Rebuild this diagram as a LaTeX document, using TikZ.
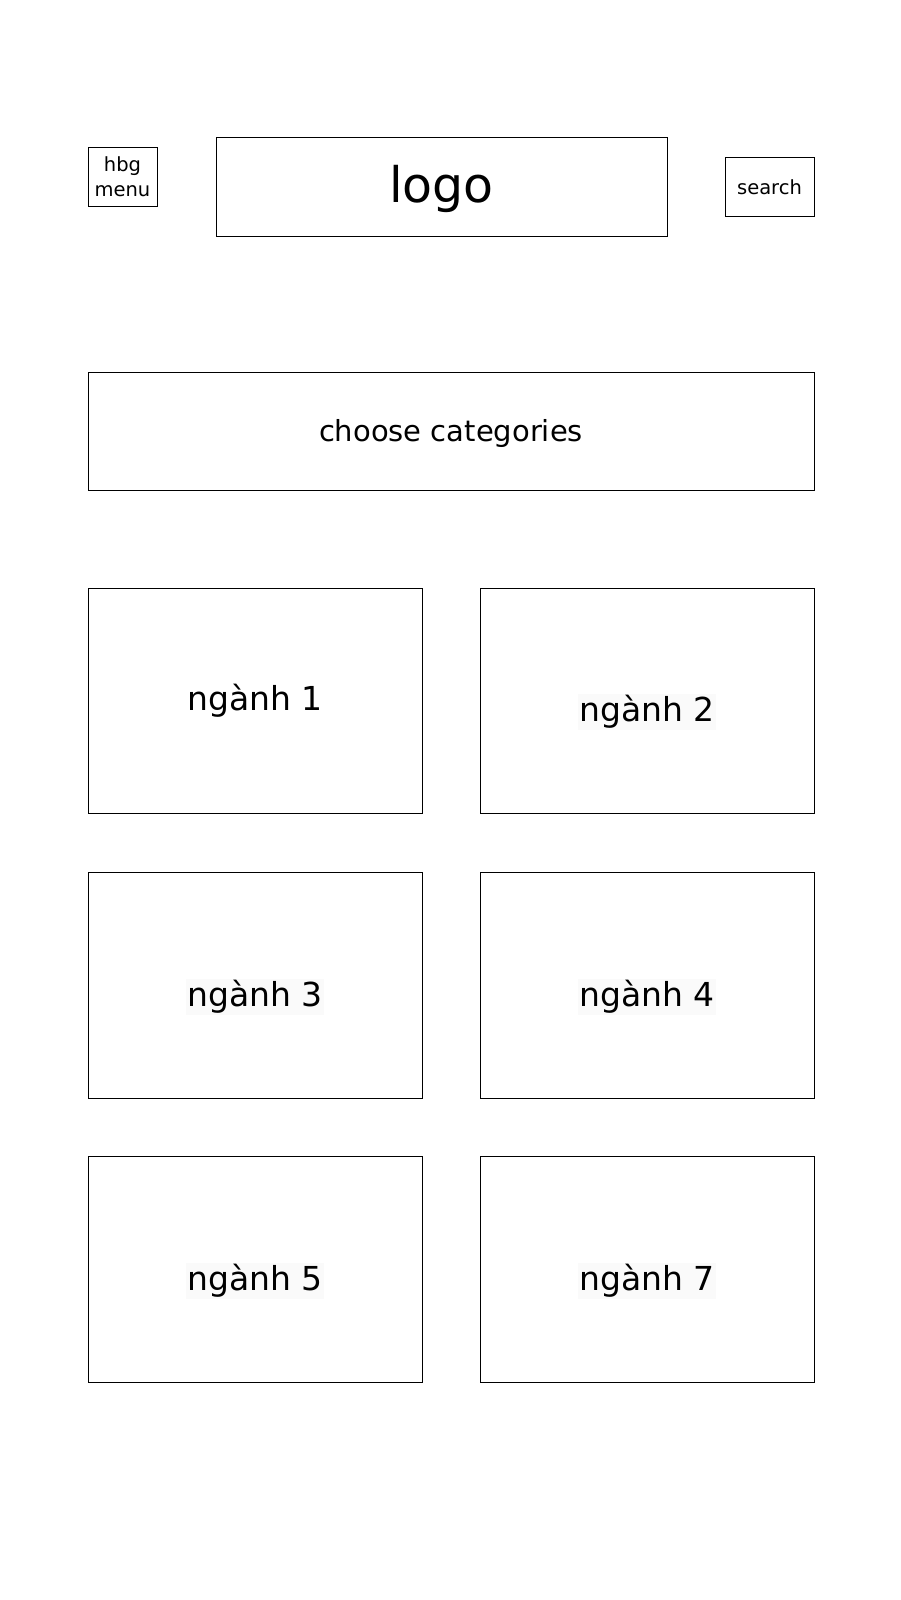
\documentclass[tikz,border=0pt]{standalone}
\usepackage{fontspec}
\setmainfont{DejaVu Sans}
\begin{document}
\begin{tikzpicture}[x=1pt,y=-1pt,
  box/.style={draw=black,line width=0.8pt,fill=white,inner sep=0pt},
  lbl/.style={inner sep=1pt,font=\fontsize{33}{40}\selectfont},
  lblbg/.style={lbl,fill={rgb,255:red,250;green,250;blue,250}}]
\useasboundingbox[fill=white] (0,0) rectangle (900,1600);
\draw[box] (88,147) rectangle (157,206);
\node[align=center,font=\fontsize{19.5}{25}\selectfont] (hbg) at (122.5,176.5) {hbg\\menu};
\draw[box] (216,137) rectangle (667,236);
\node[font=\fontsize{49}{60}\selectfont] (logo) at (441.5,189) {logo};
\draw[box] (725,157) rectangle (814,216);
\node[font=\fontsize{19.5}{24}\selectfont] (search) at (769.5,187) {search};
\draw[box] (88,372) rectangle (814,490);
\node[font=\fontsize{29}{34}\selectfont] (cat) at (451,433) {choose categories};
\draw[box] (88,588) rectangle (422,813);
\node[lbl] (n1) at (255,701) {ngành 1};
\draw[box] (480,588) rectangle (814,813);
\node[lblbg] (n2) at (647,712) {ngành 2};
\draw[box] (88,872) rectangle (422,1098);
\node[lblbg] (n3) at (255,997) {ngành 3};
\draw[box] (480,872) rectangle (814,1098);
\node[lblbg] (n4) at (647,997) {ngành 4};
\draw[box] (88,1156) rectangle (422,1382);
\node[lblbg] (n5) at (255,1281) {ngành 5};
\draw[box] (480,1156) rectangle (814,1382);
\node[lblbg] (n7) at (647,1281) {ngành 7};
\end{tikzpicture}
\end{document}
